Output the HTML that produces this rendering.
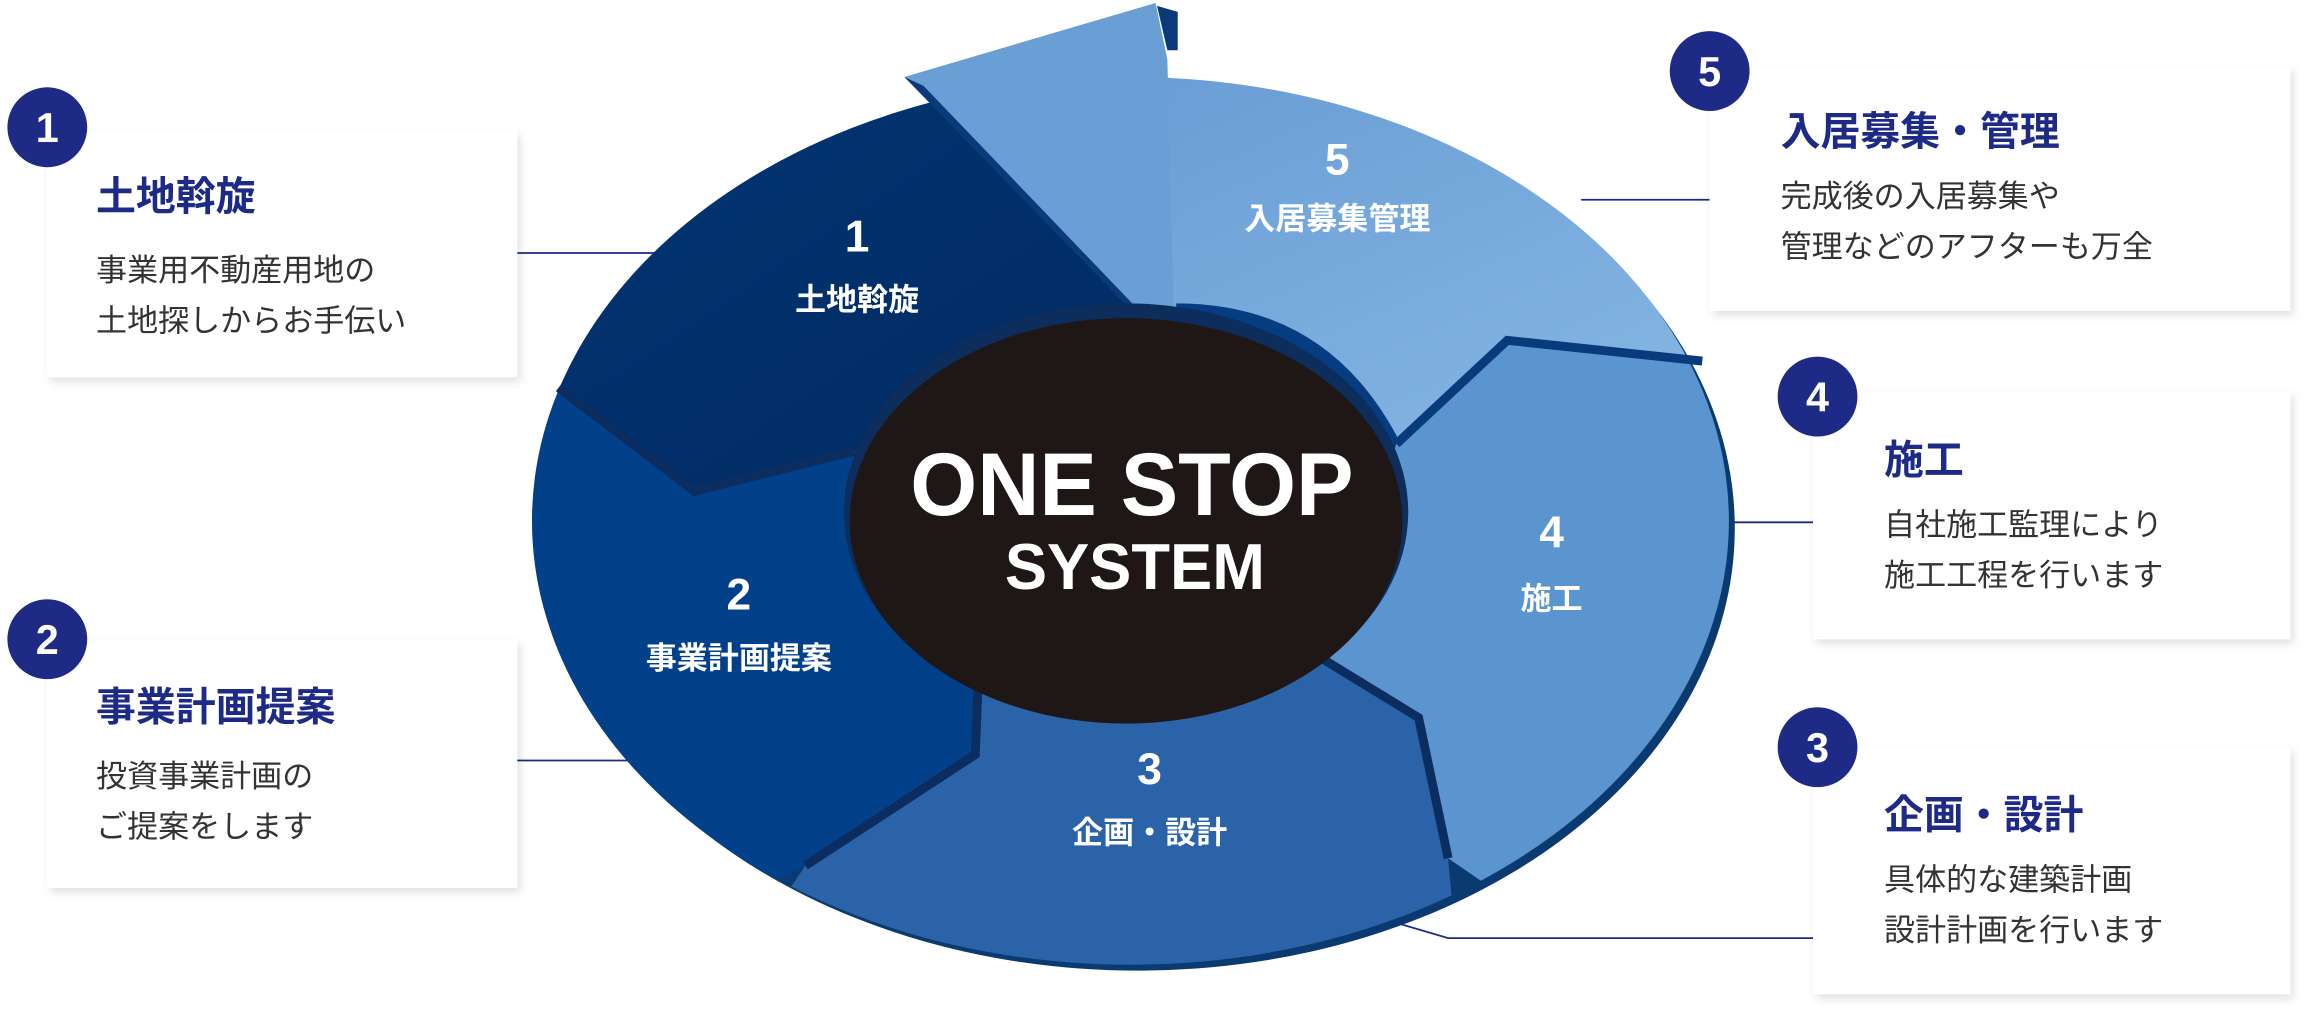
<!DOCTYPE html>
<html><head><meta charset="utf-8"><style>
html,body{margin:0;padding:0;background:#fff;width:2317px;height:1018px;overflow:hidden;}
svg{display:block;}
text{font-family:"Liberation Sans","Noto Sans CJK JP",sans-serif;}
</style></head><body>
<svg width="2317" height="1018" viewBox="0 0 1568 688" preserveAspectRatio="none" xmlns="http://www.w3.org/2000/svg">
<defs>
<clipPath id="ec"><ellipse cx="765" cy="352" rx="405" ry="300"/></clipPath>
<filter id="sh" x="-10%" y="-10%" width="130%" height="130%"><feDropShadow dx="2" dy="3" stdDeviation="3" flood-color="#000" flood-opacity="0.12"/></filter>
<linearGradient id="g5" x1="0" y1="0" x2="1" y2="1"><stop offset="0" stop-color="#6196d0"/><stop offset="1" stop-color="#8bbbe6"/></linearGradient>
<linearGradient id="g1" x1="0" y1="0" x2="1" y2="1"><stop offset="0" stop-color="#033775"/><stop offset="1" stop-color="#022a62"/></linearGradient>
</defs>

<g stroke="#1d2a86" stroke-width="1.2" fill="none">
<line x1="350" y1="171" x2="445" y2="171"/>
<line x1="350" y1="514" x2="440" y2="514"/>
<line x1="1070" y1="135" x2="1157" y2="135"/>
<line x1="1165" y1="353" x2="1227" y2="353"/>
<polyline points="905,612 980,634 1227,634"/>
</g>

<ellipse cx="770" cy="357" rx="404" ry="299" fill="#0a3a70"/>
<g clip-path="url(#ec)">
<polygon fill="url(#g1)" points="300,230 378,262 470,332 578,305 600,285 700,232 795,235 612,52 600,0 300,0"/>
<polygon fill="#02408a" points="300,230 378,262 470,332 578,305 600,400 662,460 660,510 545,585 300,700"/>
<polygon fill="#2b63a8" points="545,585 660,510 662,460 700,470 870,430 960,485 980,580 1000,800 400,800"/>
<polygon fill="#5a95cf" points="980,580 960,485 870,430 900,420 945,300 1020,230 1160,245 1300,250 1300,800"/>
<polygon fill="url(#g5)" points="795,235 612,52 780,0 1300,0 1300,245 1160,245 1020,230 945,300 900,240"/>
<path d="M795,235 L796,205 Q900,205 948,300 L930,300 Q880,225 795,235 Z" fill="#063d82"/>
</g>
<polygon fill="#6a9fd6" points="612,52 782,2 790,40 795,235"/>
<polygon fill="#0a3a7a" points="783,4 797,8 797,34 790,34"/>
<polygon fill="#0a3a7a" points="612,52 625,58 795,235 790,235"/>

<g fill="none" stroke="#0b2d60" stroke-width="6" stroke-linejoin="miter">
<polyline points="378,262 470,332 578,305"/>
<polyline points="545,585 660,510 662,460"/>
<polyline points="870,430 960,485 980,580"/>
<polyline points="945,300 1020,230 1152,244" stroke="#083a7c"/>
</g>

<ellipse cx="762" cy="346" rx="191" ry="141" fill="#0d2d5c"/>
<ellipse cx="762" cy="352" rx="187" ry="137" fill="#1e1716"/>
<text x="766" y="348" fill="#fff" font-size="60" font-weight="bold" text-anchor="middle" textLength="300" lengthAdjust="spacingAndGlyphs">ONE STOP</text>
<text x="768" y="398" fill="#fff" font-size="44" font-weight="bold" text-anchor="middle" textLength="176" lengthAdjust="spacingAndGlyphs">SYSTEM</text>

<g fill="#fff" font-weight="bold" text-anchor="middle">
<text x="580" y="170" font-size="30">1</text>
<text x="580" y="210" font-size="21">土地斡旋</text>
<text x="500" y="412" font-size="30">2</text>
<text x="500" y="452" font-size="21">事業計画提案</text>
<text x="778" y="530" font-size="30">3</text>
<text x="778" y="570" font-size="21">企画・設計</text>
<text x="1050" y="370" font-size="30">4</text>
<text x="1050" y="412" font-size="21">施工</text>
<text x="905" y="118" font-size="30">5</text>
<text x="905" y="155" font-size="21">入居募集管理</text>
</g>

<g fill="#fff" filter="url(#sh)">
<rect x="32" y="88" width="318" height="167"/>
<rect x="32" y="432" width="318" height="168"/>
<rect x="1157" y="45" width="393" height="165"/>
<rect x="1227" y="265" width="323" height="167"/>
<rect x="1227" y="505" width="323" height="167"/>
</g>
<g fill="#1d2a86">
<circle cx="32" cy="86" r="27"/>
<circle cx="32" cy="432" r="27"/>
<circle cx="1157" cy="48" r="27"/>
<circle cx="1230" cy="268" r="27"/>
<circle cx="1230" cy="505" r="27"/>
</g>
<g fill="#fff" font-size="28" font-weight="bold" text-anchor="middle">
<text x="32" y="96">1</text>
<text x="32" y="442">2</text>
<text x="1157" y="58">5</text>
<text x="1230" y="278">4</text>
<text x="1230" y="515">3</text>
</g>
<g fill="#1d2a86" font-size="27" font-weight="bold">
<text x="65" y="142">土地斡旋</text>
<text x="65" y="487">事業計画提案</text>
<text x="1205" y="98">入居募集・管理</text>
<text x="1275" y="320">施工</text>
<text x="1275" y="560">企画・設計</text>
</g>
<g fill="#333" font-size="21">
<text x="65" y="190">事業用不動産用地の</text>
<text x="65" y="224">土地探しからお手伝い</text>
<text x="65" y="532">投資事業計画の</text>
<text x="65" y="566">ご提案をします</text>
<text x="1205" y="140">完成後の入居募集や</text>
<text x="1205" y="174">管理などのアフターも万全</text>
<text x="1275" y="362">自社施工監理により</text>
<text x="1275" y="396">施工工程を行います</text>
<text x="1275" y="602">具体的な建築計画</text>
<text x="1275" y="636">設計計画を行います</text>
</g>
</svg>
</body></html>
